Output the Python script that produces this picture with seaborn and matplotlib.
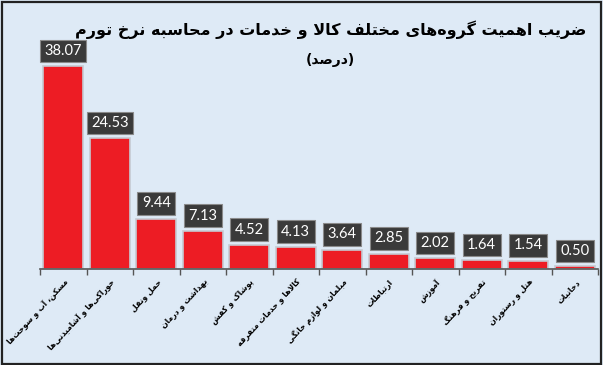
import numpy as np
import pandas as pd
import matplotlib
matplotlib.use('Agg')
import matplotlib.pyplot as plt
import seaborn as sns
from matplotlib.patches import Rectangle

# data
categories = ['مسکن، آب و سوخت‌ها', 'خوراکی‌ها و آشامیدنی‌ها', 'حمل ونقل', 'بهداشت و درمان',
              'پوشاک و کفش', 'کالاها و خدمات متفرقه', 'مبلمان و لوازم خانگی', 'ارتباطات',
              'آموزش', 'تفریح و فرهنگ', 'هتل و رستوران', 'دخانیات']
values = [38.07, 24.53, 9.44, 7.13, 4.52, 4.13, 3.64, 2.85, 2.02, 1.64, 1.54, 0.50]
title = 'ضریب اهمیت گروه‌های مختلف کالا و خدمات در محاسبه نرخ تورم'
subtitle = '(درصد)'

# --- small persian shaper (matplotlib has no complex text layout) ---
# isolated, final, initial, medial
FORMS = {
    'ا': (0xFE8D, 0xFE8E), 'آ': (0xFE81, 0xFE82), 'د': (0xFEA9, 0xFEAA), 'ذ': (0xFEAB, 0xFEAC),
    'ر': (0xFEAD, 0xFEAE), 'ز': (0xFEAF, 0xFEB0), 'ژ': (0xFB8A, 0xFB8B), 'و': (0xFEED, 0xFEEE),
    'ب': (0xFE8F, 0xFE90, 0xFE91, 0xFE92), 'پ': (0xFB56, 0xFB57, 0xFB58, 0xFB59),
    'ت': (0xFE95, 0xFE96, 0xFE97, 0xFE98), 'ث': (0xFE99, 0xFE9A, 0xFE9B, 0xFE9C),
    'ج': (0xFE9D, 0xFE9E, 0xFE9F, 0xFEA0), 'چ': (0xFB7A, 0xFB7B, 0xFB7C, 0xFB7D),
    'ح': (0xFEA1, 0xFEA2, 0xFEA3, 0xFEA4), 'خ': (0xFEA5, 0xFEA6, 0xFEA7, 0xFEA8),
    'س': (0xFEB1, 0xFEB2, 0xFEB3, 0xFEB4), 'ش': (0xFEB5, 0xFEB6, 0xFEB7, 0xFEB8),
    'ص': (0xFEB9, 0xFEBA, 0xFEBB, 0xFEBC), 'ض': (0xFEBD, 0xFEBE, 0xFEBF, 0xFEC0),
    'ط': (0xFEC1, 0xFEC2, 0xFEC3, 0xFEC4), 'ظ': (0xFEC5, 0xFEC6, 0xFEC7, 0xFEC8),
    'ع': (0xFEC9, 0xFECA, 0xFECB, 0xFECC), 'غ': (0xFECD, 0xFECE, 0xFECF, 0xFED0),
    'ف': (0xFED1, 0xFED2, 0xFED3, 0xFED4), 'ق': (0xFED5, 0xFED6, 0xFED7, 0xFED8),
    'ک': (0xFB8E, 0xFB8F, 0xFB90, 0xFB91), 'گ': (0xFB92, 0xFB93, 0xFB94, 0xFB95),
    'ل': (0xFEDD, 0xFEDE, 0xFEDF, 0xFEE0), 'م': (0xFEE1, 0xFEE2, 0xFEE3, 0xFEE4),
    'ن': (0xFEE5, 0xFEE6, 0xFEE7, 0xFEE8), 'ه': (0xFEE9, 0xFEEA, 0xFEEB, 0xFEEC),
    'ی': (0xFBFC, 0xFBFD, 0xFBFE, 0xFBFF),
    'لا': (0xFEFB, 0xFEFC), 'لآ': (0xFEF5, 0xFEF6),
}
MIRROR = {'(': ')', ')': '('}


def shape(text):
    tokens = []
    i = 0
    while i < len(text):
        if text[i] == 'ل' and i + 1 < len(text) and text[i + 1] in 'اآ':
            tokens.append(text[i:i + 2])
            i += 2
        else:
            tokens.append(text[i])
            i += 1
    out = []
    for k, t in enumerate(tokens):
        if t not in FORMS:
            if t == '\u200c':
                continue
            out.append(MIRROR.get(t, t))
            continue
        f = FORMS[t]
        prev = k > 0 and tokens[k - 1] in FORMS and len(FORMS[tokens[k - 1]]) == 4
        nxt = len(f) == 4 and k + 1 < len(tokens) and tokens[k + 1] in FORMS
        if prev and nxt:
            c = f[3]
        elif prev:
            c = f[1]
        elif nxt:
            c = f[2]
        else:
            c = f[0]
        out.append(chr(c))
    return ''.join(out[::-1])


df = pd.DataFrame({'group': [shape(c) for c in categories], 'value': values})

bg = '#deeaf6'
fig = plt.figure(figsize=(6.03, 3.65), dpi=100, facecolor=bg)
ax = fig.add_axes([40 / 603, 96 / 365, 558 / 603, 213 / 365])
ax.set_facecolor(bg)

sns.barplot(data=df, x='group', y='value', color='#ed1c24', saturation=1,
            width=0.86, edgecolor='#c5cad2', linewidth=1.2, ax=ax)

ax.bar_label(ax.containers[0], fmt='%.2f', padding=6, color='white', fontsize=10.5,
             family='Lato',
             bbox=dict(boxstyle='square,pad=0.3', fc='#3a3a3a', ec='#8a8a8a', lw=0.8))

ax.set_xlim(-0.5, 11.5)
ax.set_ylim(0, 40)
ax.set_xlabel('')
ax.set_ylabel('')
ax.set_yticks([])
for s in ['top', 'right', 'left']:
    ax.spines[s].set_visible(False)
ax.spines['bottom'].set_color('#555555')
ax.spines['bottom'].set_linewidth(1.2)

ax.set_xticks(np.arange(-0.5, 12), minor=True)
ax.tick_params(axis='x', which='minor', length=4, color='#555555', width=1)
ax.tick_params(axis='x', which='major', length=0, pad=6)
ax.set_xticklabels(df['group'], rotation=47, ha='right', va='top',
                   rotation_mode='anchor', fontsize=5.6, fontweight='bold',
                   family='DejaVu Sans')

fig.text(0.548, 0.918, shape(title), ha='center', va='center', fontsize=11.5,
         fontweight='bold', family='DejaVu Sans')
fig.text(0.548, 0.836, shape(subtitle), ha='center', va='center', fontsize=10,
         fontweight='bold', family='DejaVu Sans')

fig.patches.append(Rectangle((0.003, 0.004), 0.994, 0.99, transform=fig.transFigure,
                             fill=False, ec='#222222', lw=1.6))

fig.savefig('out.png', dpi=100, facecolor=bg)
